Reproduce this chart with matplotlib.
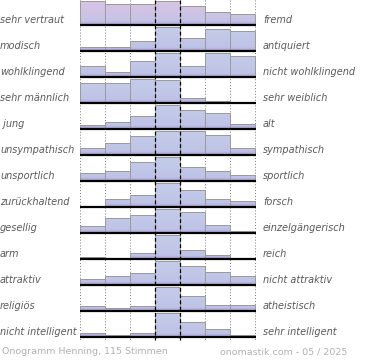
import numpy as np
import matplotlib.pyplot as plt
from matplotlib.colors import LinearSegmentedColormap

left_labels = ["sehr vertraut", "modisch", "wohlklingend", "sehr männlich", " jung",
               "unsympathisch", "unsportlich", "zurückhaltend", "gesellig", "arm",
               "attraktiv", "religiös", "nicht intelligent"]
right_labels = ["fremd", "antiquiert", "nicht wohlklingend", "sehr weiblich", "alt",
                "sympathisch", "sportlich", "forsch", "einzelgängerisch", "reich",
                "nicht attraktiv", "atheistisch", "sehr intelligent"]

# share of votes per bin, relative to the largest bin of each row
values = [
    [1.00, 0.85, 0.85, 1.00, 0.76, 0.54, 0.43],
    [0.16, 0.16, 0.41, 1.00, 0.52, 0.89, 0.80],
    [0.43, 0.22, 0.65, 1.00, 0.46, 0.98, 0.87],
    [0.83, 0.83, 1.00, 0.95, 0.20, 0.10, 0.00],
    [0.17, 0.27, 0.53, 1.00, 0.76, 0.65, 0.21],
    [0.29, 0.49, 0.79, 1.00, 1.00, 0.81, 0.29],
    [0.33, 0.40, 0.79, 1.00, 0.59, 0.39, 0.24],
    [0.00, 0.31, 0.49, 1.00, 0.69, 0.33, 0.25],
    [0.27, 0.60, 0.75, 1.00, 0.87, 0.33, 0.09],
    [0.10, 0.00, 0.24, 1.00, 0.36, 0.18, 0.00],
    [0.23, 0.36, 0.51, 1.00, 0.76, 0.53, 0.36],
    [0.20, 0.12, 0.21, 1.00, 0.60, 0.23, 0.23],
    [0.17, 0.10, 0.15, 1.00, 0.61, 0.33, 0.10],
]

footer_left = "Onogramm Henning, 115 Stimmen"
footer_right = "onomastik.com - 05 / 2025"

fig = plt.figure(figsize=(3.7, 3.6), dpi=100)
ax = fig.add_axes([0, 0, 1, 1])
ax.set_xlim(0, 370)
ax.set_ylim(360, 0)
ax.axis('off')

x0, bw = 80, 25          # left edge of the plot and width of one bin
first_base, pitch = 25, 26
full = 24.5              # height of the largest bar in a row
nbins = 7
bottom_y = first_base + pitch * (len(values) - 1) + 3

cmap_blue = LinearSegmentedColormap.from_list(
    "blue", [(0, "#a99ed2"), (0.14, "#bfc3e6"), (1, "#c5cdea")])
cmap_pink = LinearSegmentedColormap.from_list(
    "pink", [(0, "#a99ed2"), (0.14, "#c4c3e6"), (1, "#dcc3e3")])
grad = np.linspace(0, 1, 64).reshape(-1, 1)

# grid lines
for i in range(nbins + 1):
    if i in (3, 4):
        continue
    ax.plot([x0 + i * bw] * 2, [0, bottom_y], color="#777777", lw=0.7,
            ls=(0, (1, 2)), zorder=1)

xs = x0 + np.arange(nbins) * bw
for r, row in enumerate(values):
    base = first_base + r * pitch
    h = np.array(row) * full
    bars = ax.bar(xs, -h, bottom=base, width=bw, align="edge",
                  color="none", edgecolor="#9a9a9a", lw=0.7, zorder=3)
    cmap = cmap_pink if r == 0 else cmap_blue
    for p, hv in zip(bars.patches, h):
        if hv <= 0:
            continue
        im = ax.imshow(grad, cmap=cmap, origin="lower", aspect="auto",
                       extent=(p.get_x(), p.get_x() + bw, base, base - full),
                       zorder=2, interpolation="bilinear")
        im.set_clip_path(p)
    ax.plot([x0, x0 + nbins * bw + 1], [base, base], color="black", lw=1.6,
            zorder=4, solid_capstyle="butt")
    ax.text(0, base - 5, left_labels[r], ha="left", va="center",
            fontsize=7, style="italic", color="#5a5a5a")
    ax.text(263, base - 5, right_labels[r], ha="left", va="center",
            fontsize=7, style="italic", color="#5a5a5a")

for i in (3, 4):
    ax.plot([x0 + i * bw] * 2, [0, bottom_y], color="black", lw=0.9,
            ls=(0, (3, 2)), zorder=5)

ax.text(2, 352, footer_left, ha="left", va="center", fontsize=6.8, color="#b0b0b0")
ax.text(347, 352, footer_right, ha="right", va="center", fontsize=6.8, color="#b0b0b0")

fig.savefig("out.png", dpi=100)
